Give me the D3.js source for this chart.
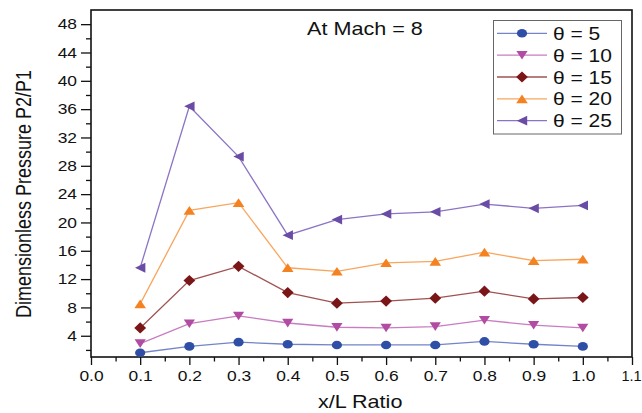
<!DOCTYPE html>
<html>
<head>
<meta charset="utf-8">
<script src="https://cdn.jsdelivr.net/npm/d3@7"></script>
<style>
  html, body { margin: 0; padding: 0; background: #fff; }
  svg { display: block; }
  text { font-family: "Liberation Sans", Arial, sans-serif; fill: #111; }
</style>
</head>
<body>
<svg id="chart" width="642" height="413"></svg>
<script>
// Pressure ratio along the surface for several deflection angles at Mach 8
const xRatio  = [0.1, 0.2, 0.3, 0.4, 0.5, 0.6, 0.7, 0.8, 0.9, 1.0];
const theta5  = [1.6, 2.5, 3.1, 2.8, 2.7, 2.7, 2.7, 3.2, 2.8, 2.5];
const theta10 = [2.9, 5.7, 6.8, 5.8, 5.2, 5.1, 5.3, 6.2, 5.5, 5.1];
const theta15 = [5.1, 11.8, 13.8, 10.1, 8.6, 8.9, 9.3, 10.3, 9.2, 9.4];
const theta20 = [8.5, 21.7, 22.8, 13.6, 13.1, 14.3, 14.5, 15.8, 14.6, 14.8];
const theta25 = [13.6, 36.4, 29.3, 18.2, 20.4, 21.2, 21.5, 22.6, 22.0, 22.4];
const seriesNames = ["θ = 5", "θ = 10", "θ = 15", "θ = 20", "θ = 25"];
const xTicks = [0.0, 0.1, 0.2, 0.3, 0.4, 0.5, 0.6, 0.7, 0.8, 0.9, 1.0, 1.1];
const yTicks = [4, 8, 12, 16, 20, 24, 28, 32, 36, 40, 44, 48];

// styling per series
const styles = [
  { marker: "circle",   fill: "#2f4ea6", line: "#7384c8" },
  { marker: "down",     fill: "#b14ca2", line: "#c97cc1" },
  { marker: "diamond",  fill: "#7a1518", line: "#a05252" },
  { marker: "up",       fill: "#f58220", line: "#f8a65e" },
  { marker: "left",     fill: "#6a4ca6", line: "#8c74c4" }
];
const series = [theta5, theta10, theta15, theta20, theta25].map((vals, i) => ({
  name: seriesNames[i],
  style: styles[i],
  points: vals.map((v, j) => ({ x: xRatio[j], y: v }))
}));

// marker outlines (slightly wider than tall)
const markerPath = {
  circle:  "M-5.1,0 A5.1,4.3 0 1,0 5.1,0 A5.1,4.3 0 1,0 -5.1,0 Z",
  down:    "M-5.6,-4.2 L5.6,-4.2 L0,4.4 Z",
  diamond: "M0,-5.6 L5.9,0 L0,5.6 L-5.9,0 Z",
  up:      "M0,-4.4 L5.8,4.3 L-5.8,4.3 Z",
  left:    "M-5.2,0 L5.2,-4.9 L5.2,4.9 Z"
};

const SX = 1.2; // horizontal text stretch
const svg = d3.select("#chart");
const margin = { left: 91, right: 10, top: 10, bottom: 56 };
const W = 642, H = 413;
const x = d3.scaleLinear().domain([0, 1.1]).range([margin.left, W - margin.right]);
const y = d3.scaleLinear().domain([1, 50]).range([H - margin.bottom, margin.top]);

// x axis: major + minor ticks
const xAxis = svg.append("g")
  .attr("transform", `translate(0,${y.range()[0]})`)
  .call(d3.axisBottom(x).tickValues(xTicks).tickFormat(d3.format(".1f")).tickSize(8).tickSizeOuter(0).tickPadding(4));
xAxis.selectAll("text").style("font-size", "14.5px").each(function (d) {
  // the last label sits at the page edge, so it is kept unstretched and nudged inward
  const last = d === xTicks[xTicks.length - 1];
  d3.select(this)
    .attr("transform", last ? "translate(-1,0)" : `scale(${SX},1)`)
    .attr("x", 0).attr("y", 0).attr("dy", "24px");
});
svg.append("g")
  .attr("transform", `translate(0,${y.range()[0]})`)
  .call(d3.axisBottom(x).tickValues(d3.range(0.05, 1.1, 0.1)).tickFormat("").tickSize(4.5).tickSizeOuter(0));

// y axis: major + minor ticks
const yAxis = svg.append("g")
  .attr("transform", `translate(${x.range()[0]},0)`)
  .call(d3.axisLeft(y).tickValues(yTicks).tickSize(10).tickSizeOuter(0).tickPadding(4));
yAxis.selectAll("text").style("font-size", "14.5px").each(function () {
  d3.select(this).attr("x", -14 / SX).attr("transform", `scale(${SX},1)`);
});
svg.append("g")
  .attr("transform", `translate(${x.range()[0]},0)`)
  .call(d3.axisLeft(y).tickValues(d3.range(2, 48, 4)).tickFormat("").tickSize(5).tickSizeOuter(0));

svg.selectAll(".domain").remove();
svg.selectAll(".tick line").attr("stroke", "#111").attr("stroke-width", 1.3);

// plot frame
svg.append("rect")
  .attr("x", x.range()[0]).attr("y", y.range()[1])
  .attr("width", x.range()[1] - x.range()[0])
  .attr("height", y.range()[0] - y.range()[1])
  .attr("fill", "none").attr("stroke", "#111").attr("stroke-width", 1.6);

// series lines and markers
const line = d3.line().x(d => x(d.x)).y(d => y(d.y));
const sg = svg.append("g").selectAll("g").data(series).join("g");
sg.append("path")
  .attr("d", d => line(d.points))
  .attr("fill", "none")
  .attr("stroke", d => d.style.line)
  .attr("stroke-width", 1.3);
sg.selectAll(".mk").data(d => d.points.map(p => ({ p, s: d.style }))).join("path")
  .attr("class", "mk")
  .attr("d", d => markerPath[d.s.marker])
  .attr("transform", d => `translate(${x(d.p.x)},${y(d.p.y)})`)
  .attr("fill", d => d.s.fill);

// annotation
svg.append("text")
  .attr("transform", `translate(307,35) scale(${SX},1)`)
  .style("font-size", "18px")
  .text("At Mach = 8");

// axis titles
svg.append("text")
  .attr("transform", `translate(318,408) scale(${SX},1)`)
  .style("font-size", "18px")
  .text("x/L Ratio");
svg.append("text")
  .attr("transform", `translate(31,194) scale(${SX},1) rotate(-90)`)
  .attr("text-anchor", "middle")
  .style("font-size", "18px")
  .text("Dimensionless Pressure P2/P1");

// legend
const lg = svg.append("g");
lg.append("rect")
  .attr("x", 493.5).attr("y", 20.5).attr("width", 128).attr("height", 113.5)
  .attr("fill", "#fff").attr("stroke", "#666").attr("stroke-width", 1);
const rowY = d3.scaleLinear().domain([0, 4]).range([33.3, 120.7]);
const items = lg.selectAll(".item").data(series).join("g")
  .attr("class", "item")
  .attr("transform", (d, i) => `translate(0,${rowY(i)})`);
items.append("line")
  .attr("x1", 497).attr("x2", 547).attr("y1", 0).attr("y2", 0)
  .attr("stroke", d => d.style.line).attr("stroke-width", 1.3);
items.append("path")
  .attr("d", d => markerPath[d.style.marker])
  .attr("transform", "translate(522,0)")
  .attr("fill", d => d.style.fill);
items.append("text")
  .attr("transform", `translate(553,6.5) scale(${SX},1)`)
  .style("font-size", "17.5px")
  .text(d => d.name);
</script>
</body>
</html>
